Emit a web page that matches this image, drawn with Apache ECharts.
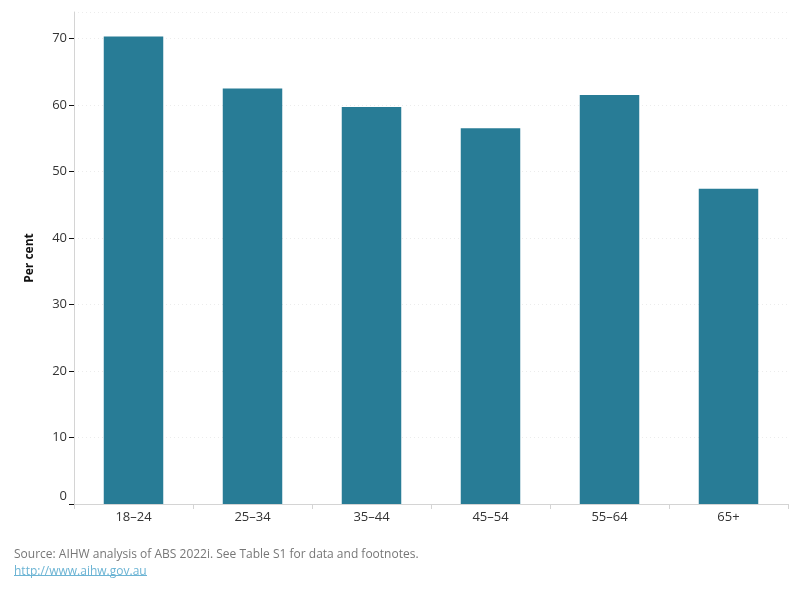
<!DOCTYPE html>
<html>
<head>
<meta charset="utf-8">
<script src="https://cdn.jsdelivr.net/npm/echarts@6/dist/echarts.min.js"></script>
<style>
  html, body { margin: 0; padding: 0; background: #fff; }
  #chart { width: 800px; height: 600px; }
</style>
</head>
<body>
<div id="chart"></div>
<script>
const ageGroups = ['18–24', '25–34', '35–44', '45–54', '55–64', '65+']
const percentValues = [70.3, 62.5, 59.7, 56.5, 61.5, 47.4]

const chart = echarts.init(document.getElementById('chart'))

chart.setOption({
  animation: false,
  grid: { left: 74, right: 12, top: 12, bottom: 96 },
  xAxis: {
    type: 'category',
    data: ageGroups,
    axisLine: { lineStyle: { color: '#d4d4d4', width: 1 } },
    axisTick: { show: true, length: 5, lineStyle: { color: '#d4d4d4' } },
    axisLabel: { color: '#333', fontSize: 13, fontFamily: 'Open Sans', margin: 7 }
  },
  yAxis: {
    type: 'value',
    min: 0,
    max: 74,
    interval: 10,
    name: 'Per cent',
    nameLocation: 'middle',
    nameGap: 38,
    nameTextStyle: { color: '#111', fontSize: 12, fontWeight: 'bold', fontFamily: 'Open Sans' },
    axisLine: { show: true, lineStyle: { color: '#d4d4d4' } },
    axisTick: { show: true, inside: false, length: 5, lineStyle: { color: '#111' } },
    axisLabel: {
      color: '#333', fontSize: 13, fontFamily: 'Open Sans', margin: 7,
      showMaxLabel: false,
      formatter: v => v === 0 ? '{z|0}' : String(v),
      rich: { z: { color: '#333', fontSize: 13, fontFamily: 'Open Sans', padding: [0, 0, 16, 0] } }
    },
    splitLine: { show: true, lineStyle: { color: '#ececec', type: [1, 3] } }
  },
  series: [{
    type: 'bar',
    data: percentValues,
    barWidth: '50%',
    itemStyle: { color: '#287c96' }
  }],
  graphic: [
    {
      type: 'text', left: 14, top: 549,
      style: { text: 'Source: AIHW analysis of ABS 2022i. See Table S1 for data and footnotes.', fill: '#777', fontSize: 12, fontFamily: 'Open Sans' }
    },
    {
      type: 'text', left: 14, top: 566,
      style: { text: 'http://www.aihw.gov.au', fill: '#6cb4d4', fontSize: 12, fontFamily: 'Open Sans' }
    },
    {
      type: 'rect', left: 14, top: 575,
      shape: { width: 133, height: 1 },
      style: { fill: '#6cb4d4' }
    }
  ]
})
</script>
</body>
</html>
